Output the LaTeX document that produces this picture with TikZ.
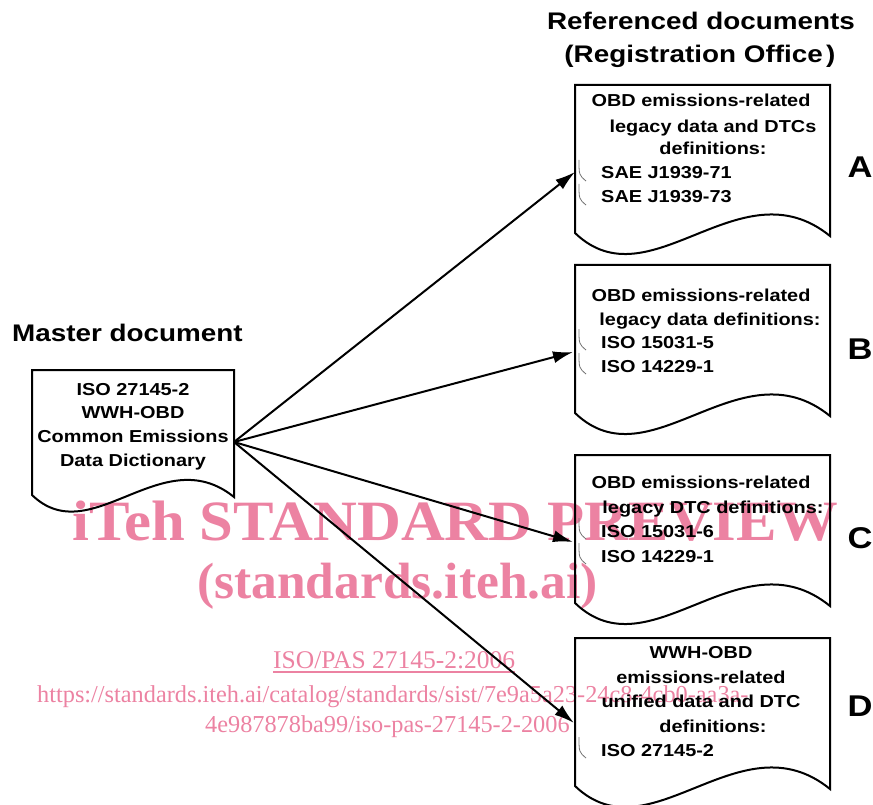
\documentclass[tikz,border=0pt]{standalone}
\usepackage{fontspec}
\setmainfont{Liberation Sans}
\newfontfamily\wmfont{Liberation Serif}
\usetikzlibrary{arrows.meta}
\definecolor{wmpink}{RGB}{236,130,162}
\begin{document}
\begin{tikzpicture}[x=1pt,y=-1pt,
  doc/.style={draw=black, line width=2pt, line join=miter},
  txt/.style={font=\fontsize{17.3}{20}\selectfont\bfseries, inner sep=0pt, anchor=base, xscale=1.15},
  item/.style={txt, anchor=base west},
  head/.style={font=\fontsize{24}{28}\selectfont\bfseries, inner sep=0pt, anchor=base, xscale=1.16},
  lbl/.style={font=\fontsize{30}{34}\selectfont\bfseries, inner sep=0pt, anchor=base, xscale=1.15},
  conn/.style={line width=2pt, -{Latex[length=20pt,width=12pt]}},
  blt/.style={draw=black!55, line width=0.8pt},
  wm/.style={text=wmpink, inner sep=0pt, anchor=base west},
  rdoc/.pic={\draw[doc] (0,0) -- (255,0) -- (255,151) .. controls (165,78) and (75,220) .. (0,148) -- cycle;}]
\useasboundingbox (0,0) rectangle (873,805);

% watermark
\node[wm, font=\wmfont\bfseries\fontsize{57}{60}\selectfont, xscale=1.065] (wm1) at (72,540) {iTeh STANDARD PREVIEW};
\node[wm, font=\wmfont\bfseries\fontsize{51}{54}\selectfont, xscale=1.01] (wm2) at (197,598) {(standards.iteh.ai)};
\node[wm, font=\wmfont\fontsize{25.5}{28}\selectfont] (wm3) at (273,668) {ISO/PAS 27145-2:2006};
\draw[wmpink, line width=1.2pt] ([yshift=-4pt]wm3.base west) -- ([yshift=-4pt]wm3.base east);
\node[wm, font=\wmfont\fontsize{24.3}{27}\selectfont] (wm4) at (37,702) {https://standards.iteh.ai/catalog/standards/sist/7e9a5a23-24c8-4cb0-aa3a-};
\node[wm, font=\wmfont\fontsize{24.3}{27}\selectfont] (wm5) at (205,732) {4e987878ba99/iso-pas-27145-2-2006};

% headings
\node[head, anchor=base west] (mh) at (12,341) {Master document};
\node[head] (rh1) at (701,30) {Referenced documents};
\node[head] (rh2) at (700,63) {(Registration Office\hspace{3pt})};

% master document
\draw[doc] (32,370) -- (234,370) -- (234,497) .. controls (162,439) and (91,552) .. (32,495) -- cycle;
\node[txt] (m1) at (133,395) {ISO 27145-2};
\node[txt] (m2) at (133,418) {WWH-OBD};
\node[txt] (m3) at (133,442) {Common Emissions};
\node[txt] (m4) at (133,466) {Data Dictionary};
\coordinate (src) at (234,442);

% referenced documents
\pic at (575,85) {rdoc};
\pic at (575,265) {rdoc};
\pic at (575,455) {rdoc};
\pic at (575,638) {rdoc};

% A
\node[txt] (a1) at (701,107) {OBD emissions-related};
\node[txt] (a2) at (713,133) {legacy data and DTCs};
\node[txt] (a3) at (713,155) {definitions:};
\node[item] (a4) at (601,179) {SAE J1939-71};
\node[item] (a5) at (601,203) {SAE J1939-73};
\draw[blt] (579,160) .. controls (579,175) .. (586,181);
\draw[blt] (579,184) .. controls (579,199) .. (586,205);
% B
\node[txt] (b1) at (701,301) {OBD emissions-related};
\node[txt] (b2) at (710,325) {legacy data definitions:};
\node[item] (b3) at (601,348) {ISO 15031-5};
\node[item] (b4) at (601,372) {ISO 14229-1};
\draw[blt] (579,329) .. controls (579,344) .. (586,350);
\draw[blt] (579,353) .. controls (579,368) .. (586,374);
% C
\node[txt] (c1) at (701,488) {OBD emissions-related};
\node[txt] (c2) at (713,513) {legacy DTC definitions:};
\node[item] (c3) at (601,537) {ISO 15031-6};
\node[item] (c4) at (601,562) {ISO 14229-1};
\draw[blt] (579,518) .. controls (579,533) .. (586,539);
\draw[blt] (579,543) .. controls (579,558) .. (586,564);
% D
\node[txt] (d1) at (701,658) {WWH-OBD};
\node[txt] (d2) at (701,683) {emissions-related};
\node[txt] (d3) at (701,707) {unified data and DTC};
\node[txt] (d4) at (713,732) {definitions:};
\node[item] (d5) at (601,756) {ISO 27145-2};
\draw[blt] (579,737) .. controls (579,752) .. (586,758);

% labels
\node[lbl] (la) at (860,178) {A};
\node[lbl] (lb) at (860,359) {B};
\node[lbl] (lc) at (860,548) {C};
\node[lbl] (ld) at (860,716) {D};

% connectors
\coordinate (tA) at (575,172);
\coordinate (tB) at (573,352);
\coordinate (tC) at (573,542);
\coordinate (tD) at (574,723);
\draw[conn] (src) -- (tA);
\draw[conn] (src) -- (tB);
\draw[conn] (src) -- (tC);
\draw[conn] (src) -- (tD);
\end{tikzpicture}
\end{document}
